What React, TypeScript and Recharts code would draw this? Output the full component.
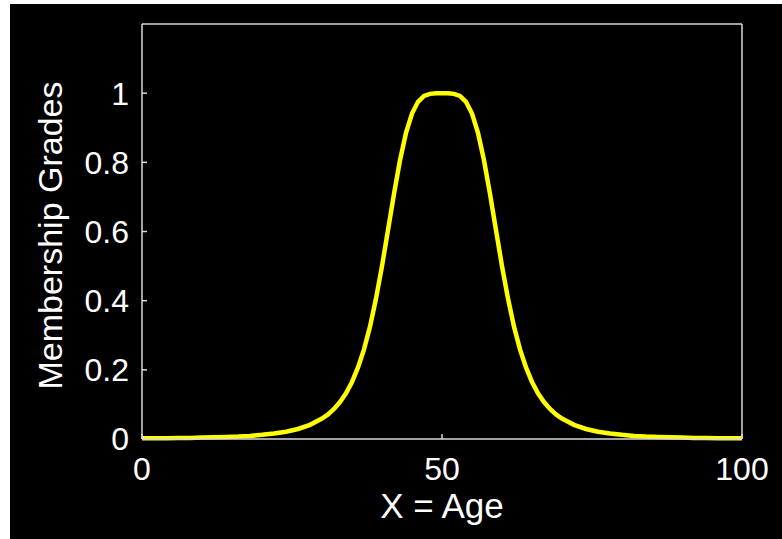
import React from 'react';
import { LineChart, Line, XAxis, YAxis } from 'recharts';

const ages = [0, 2, 4, 6, 8, 10, 12, 14, 16, 18, 20, 22, 24, 26, 28, 30, 31, 32, 33, 34, 35, 36, 37, 38, 39, 40, 41, 42, 43, 44, 45, 46, 47, 48, 49, 50,
  51, 52, 53, 54, 55, 56, 57, 58, 59, 60, 61, 62, 63, 64, 65, 66, 67, 68, 69, 70, 72, 74, 76, 78, 80, 82, 84, 86, 88, 90, 92, 94, 96, 98, 100];
const grades = [0.002, 0.002, 0.002, 0.003, 0.003, 0.004, 0.005, 0.006, 0.007, 0.009, 0.012, 0.016, 0.021, 0.029, 0.041, 0.059, 0.071, 0.087, 0.107, 0.132, 0.165, 0.207, 0.259, 0.325, 0.406, 0.5, 0.604, 0.709, 0.806, 0.885, 0.941, 0.975, 0.992, 0.998, 1, 1,
  1, 0.998, 0.992, 0.975, 0.941, 0.885, 0.806, 0.709, 0.604, 0.5, 0.406, 0.325, 0.259, 0.207, 0.165, 0.132, 0.107, 0.087, 0.071, 0.059, 0.041, 0.029, 0.021, 0.016, 0.012, 0.009, 0.007, 0.006, 0.005, 0.004, 0.003, 0.003, 0.002, 0.002, 0.002];
const xTicks = [0, 50, 100];
const yTicks = [0, 0.2, 0.4, 0.6, 0.8, 1];
const xLabel = 'X = Age';
const yLabel = 'Membership Grades';

const data = ages.map((a, i) => ({ age: a, grade: grades[i] }));

const FONT = '"Liberation Sans", Arial, sans-serif';
const AXIS = '#d8d8d8';
const tickStyle = { fill: '#ffffff', fontSize: 32, fontFamily: FONT };

export default function App() {
  return (
    <div style={{ position: 'absolute', left: 10, top: 4, width: 772, height: 535, background: '#000' }}>
      <LineChart width={772} height={535} data={data} margin={{ top: 0, right: 0, bottom: 0, left: 0 }}>
        <XAxis
          xAxisId="bottom"
          dataKey="age"
          type="number"
          domain={[0, 100]}
          ticks={xTicks}
          orientation="bottom"
          height={100}
          stroke={AXIS}
          strokeWidth={1.5}
          tickSize={-5}
          tickMargin={23}
          tick={tickStyle}
          label={{
            content: (props: any) => {
              const vb = props.viewBox;
              return (
                <text x={vb.x + vb.width / 2} y={vb.y + 79} textAnchor="middle" fill="#fff" fontSize={35} fontFamily={FONT}>
                  {xLabel}
                </text>
              );
            },
          }}
        />
        <XAxis
          xAxisId="top"
          dataKey="age"
          type="number"
          domain={[0, 100]}
          ticks={xTicks}
          orientation="top"
          height={20}
          stroke={AXIS}
          strokeWidth={1.5}
          tickSize={-5}
          tick={false}
        />
        <YAxis
          yAxisId="left"
          type="number"
          domain={[0, 1.2]}
          ticks={yTicks}
          orientation="left"
          width={132}
          stroke={AXIS}
          strokeWidth={1.5}
          tickSize={-5}
          tickMargin={18}
          tick={tickStyle}
          label={{
            content: (props: any) => {
              const vb = props.viewBox;
              const cx = 40;
              const cy = vb.y + vb.height / 2 + 4;
              return (
                <text x={cx} y={cy} transform={`rotate(-90 ${cx} ${cy})`} textAnchor="middle" dominantBaseline="central" fill="#fff" fontSize={34} fontFamily={FONT}>
                  {yLabel}
                </text>
              );
            },
          }}
        />
        <YAxis
          yAxisId="right"
          type="number"
          domain={[0, 1.2]}
          ticks={yTicks}
          orientation="right"
          width={40}
          stroke={AXIS}
          strokeWidth={1.5}
          tickSize={-5}
          tick={false}
        />
        <Line
          xAxisId="bottom"
          yAxisId="left"
          type="linear"
          dataKey="grade"
          stroke="#ffff00"
          strokeWidth={4.5}
          dot={false}
          isAnimationActive={false}
        />
      </LineChart>
    </div>
  );
}
